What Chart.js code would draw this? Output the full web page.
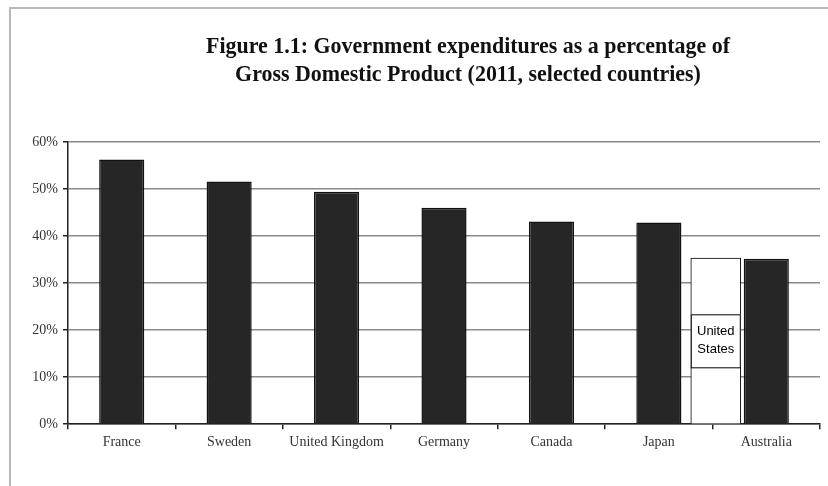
<!DOCTYPE html>
<html>
<head>
<meta charset="utf-8">
<script src="https://cdn.jsdelivr.net/npm/chart.js@4.4.1/dist/chart.umd.min.js"></script>
<style>
  html, body { margin: 0; padding: 0; background: #fff; }
  #wrap { width: 828px; height: 486px; position: relative; }
</style>
</head>
<body>
<div id="wrap"><canvas id="grafico" width="828" height="486"></canvas></div>
<script>
// Datos: gasto público como % del PIB, 2011
const paises = ['France', 'Sweden', 'United Kingdom', 'Germany', 'Canada', 'Japan', 'Australia'];
const gasto = [56.3, 51.6, 49.4, 46.0, 43.1, 42.9, 35.2];
const ticksY = [0, 10, 20, 30, 40, 50, 60];

// Recuadro de Estados Unidos, colocado entre Japón y Australia
const usaPos = [5.53];
const usaGasto = [35.3];
const usaTexto = ['United', 'States'];

const titulo = [
    'Figure 1.1: Government expenditures as a percentage of',
    'Gross Domestic Product (2011, selected countries)'
];

const serif = '"Liberation Serif", "Times New Roman", serif';

// Fondo, marco gris y título
const fondo = {
    id: 'fondo',
    beforeDraw(chart) {
        const ctx = chart.ctx;
        ctx.save();
        ctx.fillStyle = '#fff';
        ctx.fillRect(0, 0, chart.width, chart.height);
        ctx.strokeStyle = '#b8b8b8';
        ctx.lineWidth = 2;
        ctx.beginPath();
        ctx.moveTo(10, chart.height);
        ctx.lineTo(10, 8);
        ctx.lineTo(chart.width, 8);
        ctx.stroke();
        ctx.restore();
    },
    afterDraw(chart) {
        const ctx = chart.ctx;
        ctx.save();
        ctx.fillStyle = '#111';
        ctx.font = 'bold 24px ' + serif;
        ctx.textAlign = 'center';
        ctx.textBaseline = 'alphabetic';
        titulo.forEach((linea, i) => {
            ctx.save();
            ctx.translate(468, 52.5 + i * 28);
            ctx.scale(0.914, 1);
            ctx.fillText(linea, 0, 0);
            ctx.restore();
        });
        ctx.restore();
    }
};

// Etiqueta "United States" dentro de la barra blanca
const etiquetaUSA = {
    id: 'etiquetaUSA',
    afterDatasetsDraw(chart) {
        const bar = chart.getDatasetMeta(1).data[0];
        if (!bar) return;
        const ctx = chart.ctx;
        const w = bar.width, h = 53;
        const cy = (bar.y + bar.base) / 2;
        ctx.save();
        ctx.fillStyle = '#fff';
        ctx.strokeStyle = '#000';
        ctx.lineWidth = 1;
        ctx.fillRect(bar.x - w / 2, cy - h / 2, w, h);
        ctx.strokeRect(bar.x - w / 2 + 0.5, cy - h / 2 + 0.5, w - 1, h);
        ctx.fillStyle = '#000';
        ctx.font = '13px "Liberation Sans", Arial, sans-serif';
        ctx.textAlign = 'center';
        ctx.textBaseline = 'middle';
        ctx.fillText(usaTexto[0], bar.x, cy - 9);
        ctx.fillText(usaTexto[1], bar.x, cy + 9);
        ctx.restore();
    }
};

new Chart(document.getElementById('grafico'), {
    type: 'bar',
    data: {
        labels: paises,
        datasets: [
            {
                data: gasto,
                backgroundColor: '#262626',
                borderColor: '#111',
                borderWidth: 1.5,
                categoryPercentage: 1,
                barPercentage: 0.42,
                grouped: false
            },
            {
                data: usaPos.map((x, i) => ({ x: x, y: usaGasto[i] })),
                xAxisID: 'xUSA',
                backgroundColor: '#fff',
                borderColor: '#000',
                borderWidth: 1,
                barThickness: 50,
                grouped: false
            }
        ]
    },
    options: {
        responsive: false,
        animation: false,
        layout: { padding: { left: 10, right: 8, top: 142, bottom: 30 } },
        plugins: { legend: { display: false }, tooltip: { enabled: false } },
        scales: {
            x: {
                grid: {
                    offset: true,
                    drawOnChartArea: true,
                    color: (c) => c.index === paises.length ? '#8a8a8a' : 'rgba(0,0,0,0)',
                    lineWidth: 1.5,
                    tickColor: '#222',
                    tickLength: 5
                },
                border: { display: true, color: '#222', width: 1.5 },
                ticks: {
                    color: '#333',
                    font: { family: serif, size: 14 },
                    padding: 5,
                    maxRotation: 0
                }
            },
            xUSA: {
                type: 'linear',
                display: false,
                offset: false,
                min: -0.5,
                max: paises.length - 0.5
            },
            y: {
                min: 0,
                max: 60,
                afterFit: (s) => { s.width = 58; },
                afterBuildTicks: (s) => { s.ticks = ticksY.map(v => ({ value: v })); },
                grid: { color: '#8a8a8a', lineWidth: 1.5, tickColor: '#222', tickLength: 5 },
                border: { display: true, color: '#222', width: 1.5 },
                ticks: {
                    color: '#333',
                    font: { family: serif, size: 14 },
                    padding: 5,
                    callback: (v) => v + '%'
                }
            }
        }
    },
    plugins: [fondo, etiquetaUSA]
});
</script>
</body>
</html>
